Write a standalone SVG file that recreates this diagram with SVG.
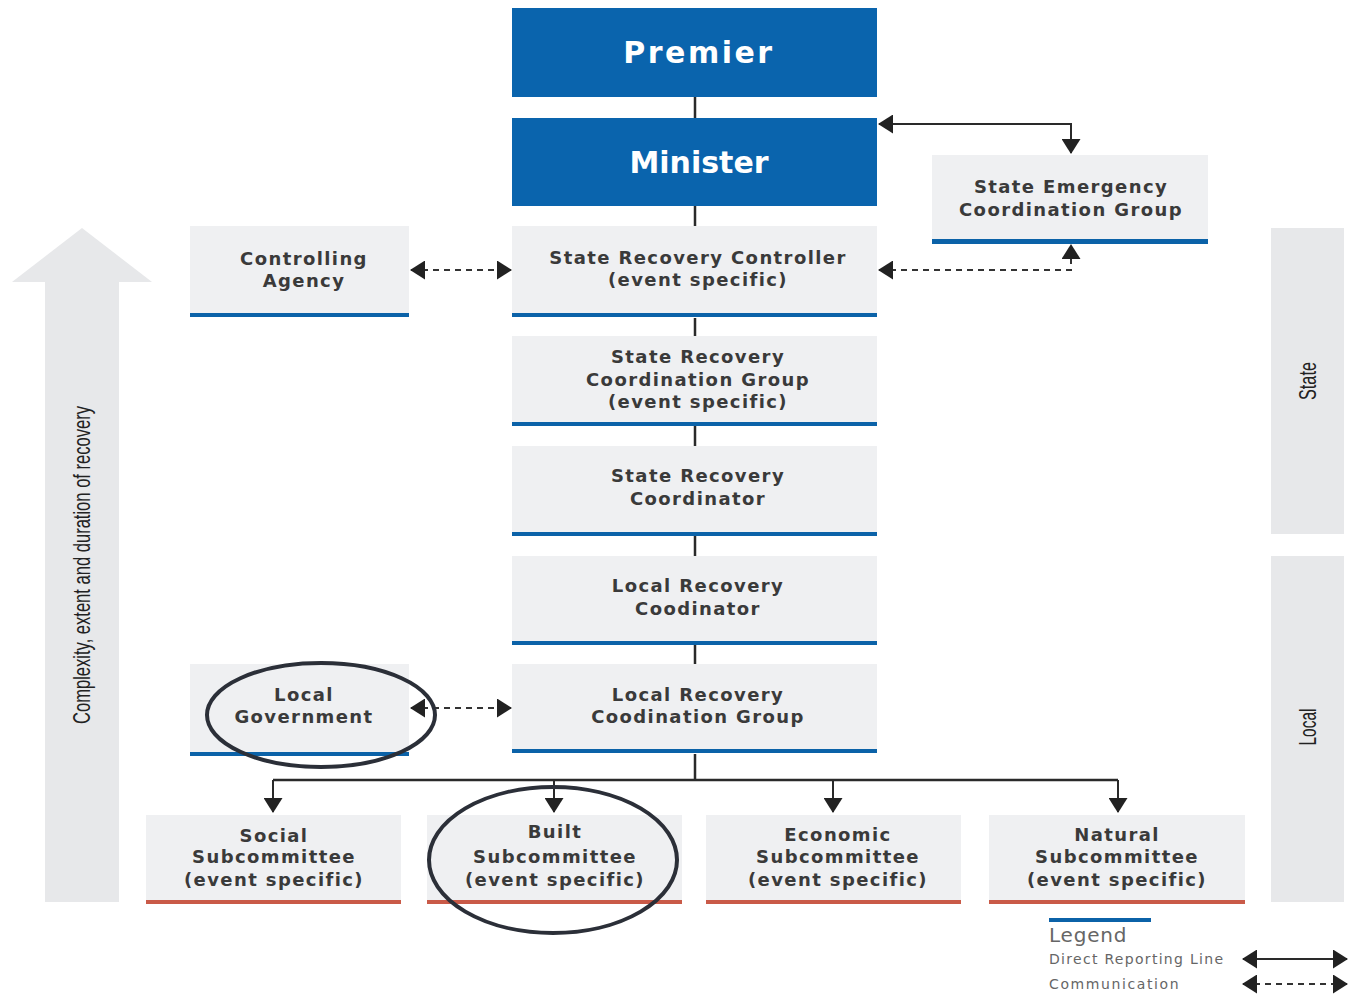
<svg xmlns="http://www.w3.org/2000/svg" width="1349" height="995" viewBox="0 0 1349 995">
<defs>
<marker id="ah" viewBox="0 0 15 19" refX="14" refY="9.5" markerWidth="15" markerHeight="19" markerUnits="userSpaceOnUse" orient="auto-start-reverse">
<path d="M0,0 L15,9.5 L0,19 z" fill="#222"/>
</marker>
</defs>
<style>
.box{fill:#eff0f2}
.blue{fill:#0a64ad}
.bar{fill:#0b62a8}
.rbar{fill:#c95a48}
.t{font-family:"DejaVu Sans",sans-serif;font-weight:bold;font-size:18px;fill:#3a3a3a;text-anchor:middle;letter-spacing:1.4px}
.big{font-family:"DejaVu Sans",sans-serif;font-weight:bold;font-size:30px;fill:#fff;text-anchor:middle}
.side{font-family:"Liberation Sans",sans-serif;font-size:24px;fill:#222;text-anchor:middle}
.ln{stroke:#2a2a2a;stroke-width:2.5;fill:none}
.ar{stroke:#2a2a2a;stroke-width:2;fill:none;marker-start:url(#ah);marker-end:url(#ah)}
.da{stroke:#333;stroke-width:2;fill:none;stroke-dasharray:6 5;marker-start:url(#ah);marker-end:url(#ah)}
.one{stroke:#2a2a2a;stroke-width:2;fill:none;marker-end:url(#ah)}
.ell{fill:none;stroke:#2b2f38;stroke-width:4}
.lg{font-family:"DejaVu Sans",sans-serif;fill:#666}
</style>
<rect width="1349" height="995" fill="#ffffff"/>

<g id="complexity-arrow">
<polygon points="45,282 12,282 82,228 152,282 119,282 119,902 45,902" fill="#e7e8ea"/>
<text class="side" transform="translate(90,565) rotate(-90)" textLength="318" lengthAdjust="spacingAndGlyphs">Complexity, extent and duration of recovery</text>
</g>

<g id="state-band">
<rect x="1271" y="228" width="73" height="306" fill="#e7e8ea"/>
<text class="side" transform="translate(1316,381) rotate(-90)" textLength="38" lengthAdjust="spacingAndGlyphs">State</text>
</g>
<g id="local-band">
<rect x="1271" y="556" width="73" height="346" fill="#e7e8ea"/>
<text class="side" transform="translate(1316,727) rotate(-90)" textLength="37" lengthAdjust="spacingAndGlyphs">Local</text>
</g>

<g id="connectors">
<path class="ln" d="M695 97V118 M695 206V226 M695 318V336 M695 426V446 M695 536V556 M695 645V664 M695 754V780 M273 780H1118"/>
<path class="one" d="M273 780V812"/>
<path class="one" d="M554 780V812"/>
<path class="one" d="M833 780V812"/>
<path class="one" d="M1118 780V812"/>
<path class="ar" d="M879 124H1071V153"/>
<path class="da" d="M879 270H1071V245"/>
<path class="da" d="M411 270H511"/>
<path class="da" d="M411 708H511"/>
</g>

<g id="premier">
<rect class="blue" x="512" y="8" width="365" height="89"/>
<text class="big" x="699" y="63" letter-spacing="2.5">Premier</text>
</g>
<g id="minister">
<rect class="blue" x="512" y="118" width="365" height="88"/>
<text class="big" x="699" y="173">Minister</text>
</g>

<g id="state-recovery-controller">
<rect class="box" x="512" y="226" width="365" height="88"/>
<rect class="bar" x="512" y="313" width="365" height="4"/>
<text class="t" x="698" y="264">State Recovery Controller</text>
<text class="t" x="698" y="286">(event specific)</text>
</g>

<g id="controlling-agency">
<rect class="box" x="190" y="226" width="219" height="88"/>
<rect class="bar" x="190" y="313" width="219" height="4"/>
<text class="t" x="304" y="265">Controlling</text>
<text class="t" x="304" y="287">Agency</text>
</g>

<g id="state-emergency-coordination-group">
<rect class="box" x="932" y="155" width="276" height="85"/>
<rect class="bar" x="932" y="239" width="276" height="5"/>
<text class="t" x="1071" y="193">State Emergency</text>
<text class="t" x="1071" y="216">Coordination Group</text>
</g>

<g id="state-recovery-coordination-group">
<rect class="box" x="512" y="336" width="365" height="87"/>
<rect class="bar" x="512" y="422" width="365" height="4"/>
<text class="t" x="698" y="363">State Recovery</text>
<text class="t" x="698" y="386">Coordination Group</text>
<text class="t" x="698" y="408">(event specific)</text>
</g>

<g id="state-recovery-coordinator">
<rect class="box" x="512" y="446" width="365" height="87"/>
<rect class="bar" x="512" y="532" width="365" height="4"/>
<text class="t" x="698" y="482">State Recovery</text>
<text class="t" x="698" y="505">Coordinator</text>
</g>

<g id="local-recovery-coodinator">
<rect class="box" x="512" y="556" width="365" height="86"/>
<rect class="bar" x="512" y="641" width="365" height="4"/>
<text class="t" x="698" y="592">Local Recovery</text>
<text class="t" x="698" y="615">Coodinator</text>
</g>

<g id="local-recovery-coodination-group">
<rect class="box" x="512" y="664" width="365" height="86"/>
<rect class="bar" x="512" y="749" width="365" height="4"/>
<text class="t" x="698" y="701">Local Recovery</text>
<text class="t" x="698" y="723">Coodination Group</text>
</g>

<g id="local-government">
<rect class="box" x="190" y="664" width="219" height="89"/>
<rect class="bar" x="190" y="752" width="219" height="4"/>
<text class="t" x="304" y="701">Local</text>
<text class="t" x="304" y="723">Government</text>
<ellipse class="ell" cx="321" cy="715" rx="114" ry="52"/>
</g>

<g id="social-subcommittee">
<rect class="box" x="146" y="815" width="255" height="86"/>
<rect class="rbar" x="146" y="900" width="255" height="4"/>
<text class="t" x="274" y="842">Social</text>
<text class="t" x="274" y="863">Subcommittee</text>
<text class="t" x="274" y="886">(event specific)</text>
</g>

<g id="built-subcommittee">
<rect class="box" x="427" y="815" width="255" height="86"/>
<rect class="rbar" x="427" y="900" width="255" height="4"/>
<text class="t" x="555" y="838">Built</text>
<text class="t" x="555" y="863">Subcommittee</text>
<text class="t" x="555" y="886">(event specific)</text>
<ellipse class="ell" cx="553" cy="860" rx="124" ry="73"/>
</g>

<g id="economic-subcommittee">
<rect class="box" x="706" y="815" width="255" height="86"/>
<rect class="rbar" x="706" y="900" width="255" height="4"/>
<text class="t" x="838" y="841">Economic</text>
<text class="t" x="838" y="863">Subcommittee</text>
<text class="t" x="838" y="886">(event specific)</text>
</g>

<g id="natural-subcommittee">
<rect class="box" x="989" y="815" width="256" height="86"/>
<rect class="rbar" x="989" y="900" width="256" height="4"/>
<text class="t" x="1117" y="841">Natural</text>
<text class="t" x="1117" y="863">Subcommittee</text>
<text class="t" x="1117" y="886">(event specific)</text>
</g>

<g id="legend">
<rect class="bar" x="1049" y="918" width="102" height="4"/>
<text class="lg" x="1049" y="942" font-size="20" letter-spacing="0.8">Legend</text>
<text class="lg" x="1049" y="964" font-size="14" letter-spacing="1.3">Direct Reporting Line</text>
<text class="lg" x="1049" y="989" font-size="14" letter-spacing="1.6">Communication</text>
<path class="ar" d="M1243 959H1347"/>
<path class="da" d="M1243 984H1347"/>
</g>
</svg>
